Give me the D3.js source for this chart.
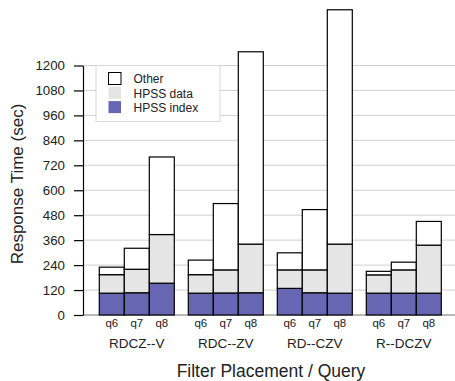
<!DOCTYPE html>
<html>
<head>
<meta charset="utf-8">
<script src="https://cdn.jsdelivr.net/npm/d3@7"></script>
<style>
  body { margin: 0; background: #fff; }
  svg { font-family: "Liberation Sans", Arial, sans-serif; }
</style>
</head>
<body>
<div id="chart"></div>
<script>
const placements = ['RDCZ--V', 'RDC--ZV', 'RD--CZV', 'R--DCZV'];
const queries = ['q6', 'q7', 'q8'];
const series = ['HPSS index', 'HPSS data', 'Other'];
// per-segment seconds, one row per placement, columns q6, q7, q8
const hpssIndex = [[105, 107, 153], [105, 106, 107], [128, 107, 105], [105, 105, 105]];
const hpssData = [[89, 113, 234], [89, 111, 234], [89, 110, 236], [88, 112, 231]];
const other = [[36, 101, 373], [70, 319, 925], [82, 290, 1127], [17, 37, 114]];
const yTicks = [0, 120, 240, 360, 480, 600, 720, 840, 960, 1080, 1200];

const colours = { 'HPSS index': '#6666b3', 'HPSS data': '#e5e5e5', 'Other': '#ffffff' };

const width = 455, height = 381;
const margin = { left: 83, base: 315, top: 65.5 };

const svg = d3.select('#chart').append('svg')
  .attr('width', width)
  .attr('height', height);

const y = d3.scaleLinear().domain([0, 1200]).range([margin.base, margin.top]);
const x = d3.scaleBand().domain(placements).range([99.3, 441.3]).paddingInner(14 / 89).paddingOuter(0);
const xq = d3.scaleBand().domain(queries).range([0, x.bandwidth()]);

// grid lines
svg.append('g')
  .selectAll('line')
  .data(yTicks.slice(1))
  .join('line')
    .attr('x1', margin.left).attr('x2', width)
    .attr('y1', d => y(d)).attr('y2', d => y(d))
    .attr('stroke', '#d0d0d0')
    .attr('stroke-width', 1);

// baseline
svg.append('line')
  .attr('x1', margin.left).attr('x2', width)
  .attr('y1', y(0)).attr('y2', y(0))
  .attr('stroke', '#a0a0a0')
  .attr('stroke-width', 1.5);

// legend
const legend = svg.append('g').attr('transform', 'translate(96,65.5)');
legend.append('rect')
  .attr('width', 124).attr('height', 56)
  .attr('fill', '#fff')
  .attr('stroke', '#d8d8d8')
  .attr('stroke-width', 1);
const legendItems = ['Other', 'HPSS data', 'HPSS index'];
legendItems.forEach((s, i) => {
  const g = legend.append('g').attr('transform', 'translate(12.5,' + (7 + i * 14.3) + ')');
  g.append('rect')
    .attr('width', 12.5).attr('height', 12)
    .attr('fill', colours[s])
    .attr('stroke', s === 'Other' ? '#000' : 'none')
    .attr('stroke-width', 1);
  g.append('text')
    .attr('x', 25).attr('y', 10.8)
    .attr('font-size', 12)
    .attr('fill', '#222')
    .text(s);
});

// stacked bars
const stacks = [hpssIndex, hpssData, other];
placements.forEach((p, pi) => {
  const g = svg.append('g').attr('transform', 'translate(' + x(p) + ',0)');
  queries.forEach((q, qi) => {
    let base = 0;
    stacks.forEach((arr, si) => {
      const v = arr[pi][qi];
      g.append('rect')
        .attr('x', xq(q))
        .attr('width', xq.bandwidth())
        .attr('y', y(base + v))
        .attr('height', y(base) - y(base + v))
        .attr('fill', colours[series[si]])
        .attr('stroke', '#000')
        .attr('stroke-width', 1.2);
      base += v;
    });
    g.append('text')
      .attr('x', xq(q) + xq.bandwidth() / 2)
      .attr('y', 327)
      .attr('text-anchor', 'middle')
      .attr('font-size', 11.5)
      .attr('fill', '#222')
      .text(q);
  });
  g.append('text')
    .attr('x', x.bandwidth() / 2)
    .attr('y', 348)
    .attr('text-anchor', 'middle')
    .attr('font-size', 13.5)
    .attr('fill', '#222')
    .text(p);
});

// y axis
const yAxis = svg.append('g')
  .attr('transform', 'translate(' + margin.left + ',0)')
  .call(d3.axisLeft(y).tickValues(yTicks).tickFormat(d3.format('d'))
    .tickSize(9).tickPadding(9).tickSizeOuter(0));
yAxis.select('.domain').attr('stroke', '#000').attr('stroke-width', 1.2);
yAxis.selectAll('.tick line').attr('stroke', '#000').attr('stroke-width', 1.2);
yAxis.selectAll('.tick text')
  .attr('font-size', 13.3)
  .attr('font-family', '"Liberation Sans", Arial, sans-serif')
  .attr('fill', '#222');

// axis titles
svg.append('text')
  .attr('transform', 'translate(22.5,184) rotate(-90)')
  .attr('text-anchor', 'middle')
  .attr('font-size', 17)
  .attr('fill', '#222')
  .text('Response Time (sec)');

svg.append('text')
  .attr('x', 271)
  .attr('y', 377)
  .attr('text-anchor', 'middle')
  .attr('font-size', 17.5)
  .attr('fill', '#222')
  .text('Filter Placement / Query');
</script>
</body>
</html>
